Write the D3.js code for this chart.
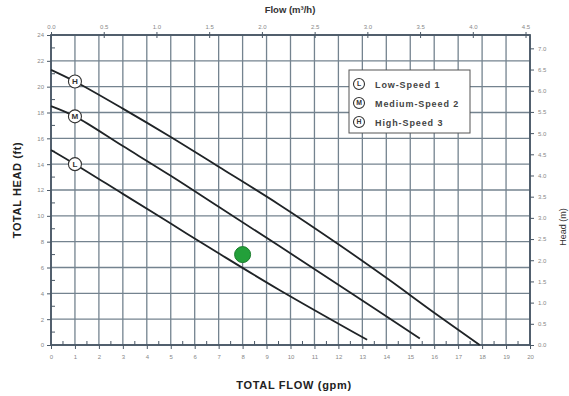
<!DOCTYPE html>
<html>
<head>
<meta charset="utf-8">
<script src="https://cdn.jsdelivr.net/npm/d3@7"></script>
<style>
  body { margin: 0; background: #fff; }
  text { font-family: "Liberation Sans", Arial, sans-serif; }
</style>
</head>
<body>
<svg id="chart" width="569" height="396"></svg>
<script>
// pump curves, flow (gpm) vs head (ft)
const highSpeed = [[0, 21.3], [1, 20.4], [3, 18.3], [5, 16.1], [7, 13.8], [9.5, 10.9], [12, 7.8], [14, 5.2], [16, 2.5], [17.9, 0]];
const medSpeed = [[0, 18.5], [1, 17.7], [3, 15.4], [5, 13.1], [7, 10.7], [9.5, 7.7], [12.3, 4.3], [15.4, 0.5]];
const lowSpeed = [[0, 15.1], [1, 14.0], [3, 11.7], [5, 9.4], [7, 7.1], [9.5, 4.3], [13.2, 0.4]];
const curveLabels = ["H", "M", "L"];
const legendItems = [["L", "Low-Speed 1"], ["M", "Medium-Speed 2"], ["H", "High-Speed 3"]];
const operatingPoint = [8, 7];
const gpmTicks = d3.range(0, 21, 1);
const ftTicks = d3.range(0, 25, 2);
const m3hTicks = d3.range(0, 4.51, 0.5);
const mTicks = d3.range(0, 7.01, 0.5);

const svg = d3.select("#chart");
const x = d3.scaleLinear().domain([0, 20]).range([51, 530]);
const y = d3.scaleLinear().domain([0, 24]).range([345, 35]);
const xTop = d3.scaleLinear().domain([0, 20 * 0.22712]).range([51, 530]);
const yRight = d3.scaleLinear().domain([0, 24 * 0.3048]).range([345, 35]);

const gridCol = "#74838f";
const axisCol = "#4a5866";

// grid
const grid = svg.append("g");
grid.selectAll(null).data(gpmTicks).enter().append("line")
    .attr("x1", d => x(d)).attr("x2", d => x(d))
    .attr("y1", y(24)).attr("y2", y(0))
    .attr("stroke", gridCol).attr("stroke-width", 1.3);
grid.selectAll(null).data(ftTicks).enter().append("line")
    .attr("x1", x(0)).attr("x2", x(20))
    .attr("y1", d => y(d)).attr("y2", d => y(d))
    .attr("stroke", gridCol).attr("stroke-width", 1.3);

// frame
svg.append("rect")
    .attr("x", x(0)).attr("y", y(24))
    .attr("width", x(20) - x(0)).attr("height", y(0) - y(24))
    .attr("fill", "none").attr("stroke", axisCol).attr("stroke-width", 1.8);

// minor ticks
svg.append("g").selectAll("line").data(d3.range(0.5, 20, 1)).enter().append("line")
    .attr("x1", d => x(d)).attr("x2", d => x(d))
    .attr("y1", y(0)).attr("y2", y(0) - 4)
    .attr("stroke", axisCol).attr("stroke-width", 1);
svg.append("g").selectAll("line").data(d3.range(1, 24, 2)).enter().append("line")
    .attr("x1", x(0)).attr("x2", x(0) + 4)
    .attr("y1", d => y(d)).attr("y2", d => y(d))
    .attr("stroke", axisCol).attr("stroke-width", 1);

// axes
function styleAxis(g) {
    g.select(".domain").remove();
    g.selectAll(".tick line").attr("stroke", axisCol);
    g.selectAll(".tick text").attr("fill", "#888").style("font-size", "6px");
}
svg.append("g").attr("transform", `translate(0,${y(0)})`)
    .call(d3.axisBottom(x).tickValues(gpmTicks).tickSize(4).tickPadding(6).tickFormat(d3.format("d")))
    .call(styleAxis);
svg.append("g").attr("transform", `translate(${x(0)},0)`)
    .call(d3.axisLeft(y).tickValues(ftTicks).tickSize(4).tickPadding(3).tickFormat(d3.format("d")))
    .call(styleAxis);
svg.append("g").attr("transform", `translate(0,${y(24)})`)
    .call(d3.axisTop(xTop).tickValues(m3hTicks).tickSize(3).tickPadding(3).tickFormat(d3.format(".1f")))
    .call(styleAxis)
    .selectAll(".tick line").attr("y2", 3).attr("y1", -3);
svg.append("g").attr("transform", `translate(${x(20)},0)`)
    .call(d3.axisRight(yRight).tickValues(mTicks).tickSize(4).tickPadding(4).tickFormat(d3.format(".1f")))
    .call(styleAxis);

// curves
const line = d3.line().x(d => x(d[0])).y(d => y(d[1])).curve(d3.curveCatmullRom);
const curves = [highSpeed, medSpeed, lowSpeed];
svg.append("g").selectAll("path").data(curves).enter().append("path")
    .attr("d", line).attr("fill", "none")
    .attr("stroke", "#1f2326").attr("stroke-width", 1.8);

// curve markers at 1 gpm
function marker(g, cx, cy, letter, r) {
    g.append("circle").attr("cx", cx).attr("cy", cy).attr("r", r)
        .attr("fill", "#fff").attr("stroke", "#333").attr("stroke-width", 1.1);
    g.append("text").attr("x", cx).attr("y", cy + r * 0.45)
        .attr("text-anchor", "middle").attr("font-weight", "bold")
        .style("font-size", (r * 1.25) + "px").attr("fill", "#333").text(letter);
}
curves.forEach((c, i) => {
    const p = c.find(d => d[0] === 1);
    marker(svg, x(p[0]), y(p[1]), curveLabels[i], 6.5);
});

// operating point
svg.append("circle")
    .attr("cx", x(operatingPoint[0])).attr("cy", y(operatingPoint[1])).attr("r", 8)
    .attr("fill", "#23a03a").attr("stroke", "#1b7d2d").attr("stroke-width", 1);

// legend
const lg = svg.append("g");
lg.append("rect").attr("x", 349).attr("y", 70).attr("width", 121).attr("height", 63)
    .attr("fill", "#fff").attr("stroke", "#555").attr("stroke-width", 1);
legendItems.forEach((it, i) => {
    const cy = 84 + i * 19;
    marker(lg, 359, cy, it[0], 5.5);
    lg.append("text").attr("x", 375).attr("y", cy + 3.5)
        .attr("font-weight", "bold").style("font-size", "9px").style("letter-spacing", "0.9px")
        .attr("fill", "#444").text(it[1]);
});

// titles
svg.append("text").attr("x", 294).attr("y", 389).attr("text-anchor", "middle")
    .attr("font-weight", "bold").style("font-size", "11px").style("letter-spacing", "0.7px")
    .attr("fill", "#222").text("TOTAL FLOW (gpm)");
svg.append("text").attr("transform", "translate(21,190) rotate(-90)").attr("text-anchor", "middle")
    .attr("font-weight", "bold").style("font-size", "11px").style("letter-spacing", "0.6px")
    .attr("fill", "#222").text("TOTAL HEAD (ft)");
svg.append("text").attr("x", 290).attr("y", 13).attr("text-anchor", "middle")
    .attr("font-weight", "bold").style("font-size", "9.5px").attr("fill", "#333")
    .text("Flow (m³/h)");
svg.append("text").attr("transform", "translate(566,227) rotate(-90)").attr("text-anchor", "middle")
    .style("font-size", "9px").attr("fill", "#333")
    .text("Head (m)");
</script>
</body>
</html>
